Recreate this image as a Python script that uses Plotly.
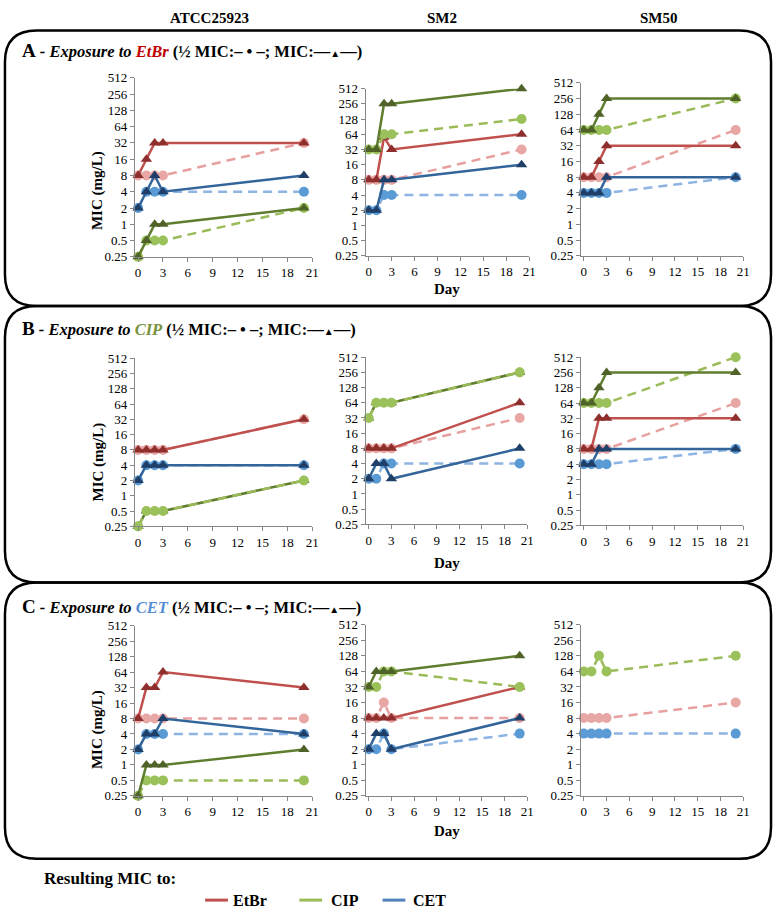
import plotly.graph_objects as go
import math

W, H = 781, 915

DAYS = [0, 1, 2, 3, 20]
ROWS = ["A", "B", "C"]
EXPOSURES = ["EtBr", "CIP", "CET"]
STRAINS = ["ATCC25923", "SM2", "SM50"]
DRUGS = ["EtBr", "CIP", "CET"]
Y_TICKS = [0.25, 0.5, 1, 2, 4, 8, 16, 32, 64, 128, 256, 512]
Y_TICK_TEXT = ["0.25", "0.5", "1", "2", "4", "8", "16", "32", "64", "128", "256", "512"]
X_TICKS = [0, 3, 6, 9, 12, 15, 18, 21]

# ---- Row A: exposure to EtBr ----
A_ATCC_ETBR_HALF = [8, 8, 8, 8, 32]
A_ATCC_ETBR_MIC = [8, 16, 32, 32, 32]
A_ATCC_CIP_HALF = [0.25, 0.5, 0.5, 0.5, 2]
A_ATCC_CIP_MIC = [0.25, 0.5, 1, 1, 2]
A_ATCC_CET_HALF = [2, 4, 4, 4, 4]
A_ATCC_CET_MIC = [2, 4, 8, 4, 8]

A_SM2_ETBR_HALF = [8, 8, 8, 8, 32]
A_SM2_ETBR_MIC = [8, 8, 56, 32, 64]
A_SM2_CIP_HALF = [32, 32, 64, 64, 128]
A_SM2_CIP_MIC = [32, 32, 256, 256, 512]
A_SM2_CET_HALF = [2, 2, 4, 4, 4]
A_SM2_CET_MIC = [2, 2, 8, 8, 16]

A_SM50_ETBR_HALF = [8, 8, 8, 8, 64]
A_SM50_ETBR_MIC = [8, 8, 16, 32, 32]
A_SM50_CIP_HALF = [64, 64, 64, 64, 256]
A_SM50_CIP_MIC = [64, 64, 128, 256, 256]
A_SM50_CET_HALF = [4, 4, 4, 4, 8]
A_SM50_CET_MIC = [4, 4, 4, 8, 8]

# ---- Row B: exposure to CIP ----
B_ATCC_ETBR_HALF = [8, 8, 8, 8, 32]
B_ATCC_ETBR_MIC = [8, 8, 8, 8, 32]
B_ATCC_CIP_HALF = [0.25, 0.5, 0.5, 0.5, 2]
B_ATCC_CIP_MIC = [0.25, 0.5, 0.5, 0.5, 2]
B_ATCC_CET_HALF = [2, 4, 4, 4, 4]
B_ATCC_CET_MIC = [2, 4, 4, 4, 4]

B_SM2_ETBR_HALF = [8, 8, 8, 8, 32]
B_SM2_ETBR_MIC = [8, 8, 8, 8, 64]
B_SM2_CIP_HALF = [32, 64, 64, 64, 256]
B_SM2_CIP_MIC = [32, 64, 64, 64, 256]
B_SM2_CET_HALF = [2, 2, 4, 4, 4]
B_SM2_CET_MIC = [2, 4, 4, 2, 8]

B_SM50_ETBR_HALF = [8, 8, 8, 8, 64]
B_SM50_ETBR_MIC = [8, 8, 32, 32, 32]
B_SM50_CIP_HALF = [64, 64, 64, 64, 512]
B_SM50_CIP_MIC = [64, 64, 128, 256, 256]
B_SM50_CET_HALF = [4, 4, 4, 4, 8]
B_SM50_CET_MIC = [4, 4, 8, 8, 8]

# ---- Row C: exposure to CET ----
C_ATCC_ETBR_HALF = [8, 8, 8, 8, 8]
C_ATCC_ETBR_MIC = [8, 32, 32, 64, 32]
C_ATCC_CIP_HALF = [0.25, 0.5, 0.5, 0.5, 0.5]
C_ATCC_CIP_MIC = [0.25, 1, 1, 1, 2]
C_ATCC_CET_HALF = [2, 4, 4, 4, 4]
C_ATCC_CET_MIC = [2, 4, 4, 8, 4]

C_SM2_ETBR_HALF = [8, 8, 16, 8, 8]
C_SM2_ETBR_MIC = [8, 8, 8, 8, 32]
C_SM2_CIP_HALF = [32, 32, 64, 64, 32]
C_SM2_CIP_MIC = [32, 64, 64, 64, 128]
C_SM2_CET_HALF = [2, 2, 4, 2, 4]
C_SM2_CET_MIC = [2, 4, 4, 2, 8]

C_SM50_ETBR_HALF = [8, 8, 8, 8, 16]
C_SM50_ETBR_MIC = []
C_SM50_CIP_HALF = [64, 64, 128, 64, 128]
C_SM50_CIP_MIC = []
C_SM50_CET_HALF = [4, 4, 4, 4, 4]
C_SM50_CET_MIC = []

DATA = {
    ("A", 0): {"EtBr": (A_ATCC_ETBR_HALF, A_ATCC_ETBR_MIC), "CIP": (A_ATCC_CIP_HALF, A_ATCC_CIP_MIC), "CET": (A_ATCC_CET_HALF, A_ATCC_CET_MIC)},
    ("A", 1): {"EtBr": (A_SM2_ETBR_HALF, A_SM2_ETBR_MIC), "CIP": (A_SM2_CIP_HALF, A_SM2_CIP_MIC), "CET": (A_SM2_CET_HALF, A_SM2_CET_MIC)},
    ("A", 2): {"EtBr": (A_SM50_ETBR_HALF, A_SM50_ETBR_MIC), "CIP": (A_SM50_CIP_HALF, A_SM50_CIP_MIC), "CET": (A_SM50_CET_HALF, A_SM50_CET_MIC)},
    ("B", 0): {"EtBr": (B_ATCC_ETBR_HALF, B_ATCC_ETBR_MIC), "CIP": (B_ATCC_CIP_HALF, B_ATCC_CIP_MIC), "CET": (B_ATCC_CET_HALF, B_ATCC_CET_MIC)},
    ("B", 1): {"EtBr": (B_SM2_ETBR_HALF, B_SM2_ETBR_MIC), "CIP": (B_SM2_CIP_HALF, B_SM2_CIP_MIC), "CET": (B_SM2_CET_HALF, B_SM2_CET_MIC)},
    ("B", 2): {"EtBr": (B_SM50_ETBR_HALF, B_SM50_ETBR_MIC), "CIP": (B_SM50_CIP_HALF, B_SM50_CIP_MIC), "CET": (B_SM50_CET_HALF, B_SM50_CET_MIC)},
    ("C", 0): {"EtBr": (C_ATCC_ETBR_HALF, C_ATCC_ETBR_MIC), "CIP": (C_ATCC_CIP_HALF, C_ATCC_CIP_MIC), "CET": (C_ATCC_CET_HALF, C_ATCC_CET_MIC)},
    ("C", 1): {"EtBr": (C_SM2_ETBR_HALF, C_SM2_ETBR_MIC), "CIP": (C_SM2_CIP_HALF, C_SM2_CIP_MIC), "CET": (C_SM2_CET_HALF, C_SM2_CET_MIC)},
    ("C", 2): {"EtBr": (C_SM50_ETBR_HALF, C_SM50_ETBR_MIC), "CIP": (C_SM50_CIP_HALF, C_SM50_CIP_MIC), "CET": (C_SM50_CET_HALF, C_SM50_CET_MIC)},
}
HALF_ON_TOP = {("B", 0): ["CIP"], ("B", 1): ["CIP"]}

# ---- styles ----
FONT = "Liberation Serif, Times New Roman, serif"
STYLE = {
    "EtBr": dict(mic_line="#c0504d", mic_mark="#8e2f2d", half_line="#e6a09f", half_mark="#e8a6a5"),
    "CIP": dict(mic_line="#5e7d2e", mic_mark="#4f6228", half_line="#9bbb59", half_mark="#9bc15a"),
    "CET": dict(mic_line="#33659a", mic_mark="#1f3e68", half_line="#8db4e2", half_mark="#5b9bd5"),
}
LEGEND_COLORS = {"EtBr": "#c0504d", "CIP": "#9bbb59", "CET": "#4f81bd"}
EXPO_COLORS = {"EtBr": "#c00000", "CIP": "#77933c", "CET": "#558ed5"}

# plot areas in pixels: (left at day -0.4, right at day 21, top at 512, bottom at 0.25)
PLOT_PX = {
    ("A", 0): (136, 315, 72, 254), ("A", 1): (369, 534, 83, 253), ("A", 2): (586, 750, 77, 253),
    ("B", 0): (136, 315, 357, 528), ("B", 1): (369, 532, 356, 526), ("B", 2): (586, 750, 356, 527),
    ("C", 0): (136, 315, 629, 802), ("C", 1): (369, 532, 628, 802), ("C", 2): (586, 750, 628, 802),
}
TITLE_Y = {"A": 44, "B": 327, "C": 609}
DAY_Y = {"A": 287, "B": 565, "C": 838}
YLAB_Y = {"A": 187, "B": 463, "C": 735}
BOXES = [(5, 24, 778, 304), (5, 304, 778, 585), (5, 585, 778, 866)]


def px(x):
    return x / W


def py(y):
    return 1 - y / H


fig = go.Figure()
layout = {}
idx = 0
for r in ROWS:
    for c in range(3):
        idx += 1
        sfx = "" if idx == 1 else str(idx)
        l, rr, t, b = PLOT_PX[(r, c)]
        axis_common = dict(showgrid=False, zeroline=False, showline=True, linecolor="#868686", linewidth=1,
                           ticks="outside", ticklen=4, tickcolor="#868686",
                           tickfont=dict(family=FONT, size=13, color="black"))
        layout["xaxis" + sfx] = dict(domain=[px(l), px(rr)], range=[-0.4, 21], tickvals=X_TICKS,
                                     anchor="y" + sfx, **axis_common)
        layout["yaxis" + sfx] = dict(domain=[py(b), py(t)], type="log",
                                     range=[math.log10(0.25), math.log10(512)],
                                     tickvals=Y_TICKS, ticktext=Y_TICK_TEXT, anchor="x" + sfx, **axis_common)
        panel = DATA[(r, c)]
        order = []
        for d in DRUGS:
            if d in HALF_ON_TOP.get((r, c), []):
                order += [(d, "mic"), (d, "half")]
            else:
                order += [(d, "half"), (d, "mic")]
        for d, kind in order:
            half, mic = panel[d]
            st = STYLE[d]
            vals = half if kind == "half" else mic
            if not vals:
                continue
            if kind == "half":
                line = dict(color=st["half_line"], width=2.5, dash="9px,6px")
                marker = dict(symbol="circle", size=10, color=st["half_mark"])
            else:
                line = dict(color=st["mic_line"], width=2.5)
                marker = dict(symbol="triangle-up", size=10, color=st["mic_mark"])
            fig.add_trace(go.Scatter(x=DAYS, y=vals, mode="lines+markers", line=line, marker=marker,
                                     xaxis="x" + sfx, yaxis="y" + sfx, cliponaxis=False, showlegend=False,
                                     name=f"{d} {kind}"))

annotations = []
shapes = []


def note(x, y, text, size, **kw):
    d = dict(x=px(x), y=py(y), xref="paper", yref="paper", text=text, showarrow=False,
             xanchor=kw.pop("xanchor", "center"), yanchor=kw.pop("yanchor", "middle"),
             font=dict(family=FONT, size=size, color="black"))
    d.update(kw)
    annotations.append(d)


HEADER_X = [211, 446, 665]
for s, hx in zip(STRAINS, HEADER_X):
    note(hx, 11, f"<b>{s}</b>", 15)

for r, ex in zip(ROWS, EXPOSURES):
    txt = (f"<b><span style='font-size:19px'>{r}</span></b><b><i> - Exposure to "
           f"<span style='color:{EXPO_COLORS[ex]}'>{ex}</span></i> (½ MIC:– • –; MIC:—<span style='font-size:10px'>▲</span>—)</b>")
    note(20, TITLE_Y[r], txt, 16.5, xanchor="left")
    note(99, YLAB_Y[r], "<b>MIC (mg/L)</b>", 15, textangle=-90)
    note(451, DAY_Y[r], "<b>Day</b>", 15)

# rounded boxes
R = 32
for (x0, y0, x1, y1) in BOXES:
    p = (f"M {px(x0 + R)},{py(y0)} L {px(x1 - R)},{py(y0)} Q {px(x1)},{py(y0)} {px(x1)},{py(y0 + R)} "
         f"L {px(x1)},{py(y1 - R)} Q {px(x1)},{py(y1)} {px(x1 - R)},{py(y1)} "
         f"L {px(x0 + R)},{py(y1)} Q {px(x0)},{py(y1)} {px(x0)},{py(y1 - R)} "
         f"L {px(x0)},{py(y0 + R)} Q {px(x0)},{py(y0)} {px(x0 + R)},{py(y0)} Z")
    shapes.append(dict(type="path", path=p, xref="paper", yref="paper", line=dict(color="black", width=2.5)))

# bottom legend
note(42, 886, "<b>Resulting MIC to:</b>", 17, xanchor="left")
LEG_X = [(207, 233), (302, 332), (386, 415)]
for d, (lx, tx) in zip(DRUGS, LEG_X):
    shapes.append(dict(type="line", xref="paper", yref="paper", x0=px(lx), x1=px(lx + 23), y0=py(908), y1=py(908),
                       line=dict(color=LEGEND_COLORS[d], width=3)))
    note(tx, 908, f"<b>{d}</b>", 16, xanchor="left")

fig.update_layout(width=W, height=H, margin=dict(l=0, r=0, t=0, b=0), paper_bgcolor="white",
                  plot_bgcolor="rgba(0,0,0,0)", showlegend=False, annotations=annotations, shapes=shapes, **layout)

fig.write_html("out.html", config={"displayModeBar": False},
               post_script="document.body.style.margin='0px';document.body.style.overflow='hidden';")
